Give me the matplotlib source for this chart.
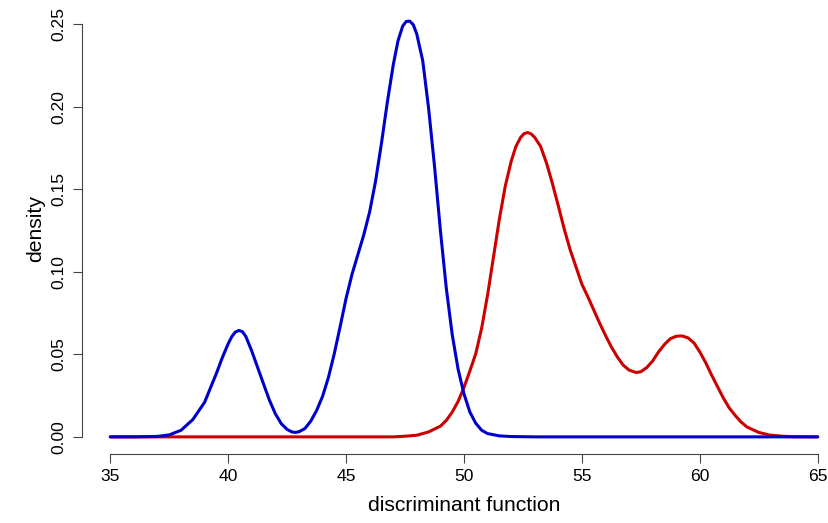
import numpy as np
import matplotlib
matplotlib.use('Agg')
import matplotlib.pyplot as plt

plt.rcParams['font.family'] = ['Liberation Sans', 'DejaVu Sans']

# density curves
blue_x = [35.0, 36.0, 37.0, 37.5, 38.0, 38.5, 39.0, 39.5, 39.75, 40.0, 40.15, 40.3, 40.45,
          40.6, 40.75, 41.0, 41.25, 41.5, 41.75, 42.0, 42.25, 42.5, 42.7, 42.85, 43.0, 43.25,
          43.5, 43.75, 44.0, 44.25, 44.5, 44.75, 45.0, 45.25, 45.5, 45.75, 46.0, 46.25,
          46.5, 46.75, 47.0, 47.2, 47.4, 47.55, 47.7, 47.85, 48.0, 48.25, 48.5, 48.75, 49.0,
          49.25, 49.5, 49.75, 50.0, 50.25, 50.5, 50.75, 51.0, 51.5, 52.0, 53.0, 65.0]
blue_y = [0.0, 0.0, 0.0003, 0.0012, 0.0040, 0.0105, 0.0210, 0.0385, 0.0480, 0.0565, 0.0607,
          0.0635, 0.0645, 0.0638, 0.0608, 0.0520, 0.0420, 0.0320, 0.0222, 0.0140, 0.0080,
          0.0045, 0.0030, 0.0027, 0.0031, 0.0050, 0.0095, 0.0160, 0.0245, 0.0360, 0.0505,
          0.0670, 0.0840, 0.0985, 0.1105, 0.1225, 0.1365, 0.1550, 0.1780, 0.2030, 0.2255,
          0.2400, 0.2490, 0.2518, 0.2520, 0.2498, 0.2440, 0.2280, 0.1990, 0.1640, 0.1250,
          0.0900, 0.0620, 0.0410, 0.0260, 0.0150, 0.0082, 0.0040, 0.0020, 0.0006, 0.0002,
          0.0, 0.0]

red_x = [35.0, 47.0, 47.5, 48.0, 48.5, 49.0, 49.25, 49.5, 49.75, 50.0, 50.25, 50.5, 50.75,
         51.0, 51.25, 51.5, 51.75, 52.0, 52.2, 52.4, 52.55, 52.7, 52.85, 53.0, 53.25, 53.5,
         53.75, 54.0, 54.25, 54.5, 54.75, 55.0, 55.25, 55.5, 55.75, 56.0, 56.25, 56.5, 56.75,
         57.0, 57.3, 57.5, 57.75, 58.0, 58.25, 58.5, 58.75, 59.0, 59.25, 59.5, 59.75, 60.0,
         60.25, 60.5, 60.75, 61.0, 61.25, 61.5, 61.75, 62.0, 62.5, 63.0, 63.5, 64.0, 65.0]
red_y = [0.0, 0.0, 0.0004, 0.0010, 0.0030, 0.0065, 0.0100, 0.0150, 0.0215, 0.0300, 0.0400,
         0.0505, 0.0660, 0.0860, 0.1090, 0.1320, 0.1520, 0.1670, 0.1760, 0.1815, 0.1838,
         0.1845, 0.1836, 0.1815, 0.1760, 0.1660, 0.1535, 0.1400, 0.1260, 0.1135, 0.1030,
         0.0925, 0.0850, 0.0770, 0.0690, 0.0615, 0.0545, 0.0485, 0.0435, 0.0405, 0.0390,
         0.0395, 0.0420, 0.0460, 0.0515, 0.0560, 0.0595, 0.0610, 0.0612, 0.0600, 0.0570,
         0.0515, 0.0450, 0.0375, 0.0305, 0.0235, 0.0175, 0.0130, 0.0090, 0.0060, 0.0027,
         0.0010, 0.0004, 0.0001, 0.0]

xticks = [35, 40, 45, 50, 55, 60, 65]
yticks = [0.00, 0.05, 0.10, 0.15, 0.20, 0.25]

fig = plt.figure(figsize=(8.29, 5.23), dpi=100)
# plot region runs past the right edge like the R device
ax = fig.add_axes([82/829, 1-453.5/523, (846-82)/829, 449/523])

ax.plot(red_x, red_y, color='#CD0000', lw=2.2, solid_capstyle='round', solid_joinstyle='round')
ax.plot(blue_x, blue_y, color='#0000CD', lw=2.2, solid_capstyle='round', solid_joinstyle='round')

ax.set_xlim(33.8, 66.2)
ax.set_ylim(-0.01008, 0.26208)

for s in ['top', 'right']:
    ax.spines[s].set_visible(False)
ax.spines['left'].set_bounds(0, 0.25)
ax.spines['bottom'].set_bounds(35, 65)
for s in ['left', 'bottom']:
    ax.spines[s].set_color('#444444')
    ax.spines[s].set_linewidth(0.8)

ax.set_xticks(xticks)
ax.set_xticklabels([str(v) for v in xticks])
ax.set_yticks(yticks)
ax.set_yticklabels(['%.2f' % v for v in yticks], rotation=90, va='center')
ax.tick_params(length=6.7, width=0.8, color='#444444', labelsize=12.6, pad=4.8)

ax.set_xlabel('discriminant function', fontsize=15.2, labelpad=8)
ax.set_ylabel('density', fontsize=15.2, labelpad=4)

fig.savefig('out.png', dpi=100)
